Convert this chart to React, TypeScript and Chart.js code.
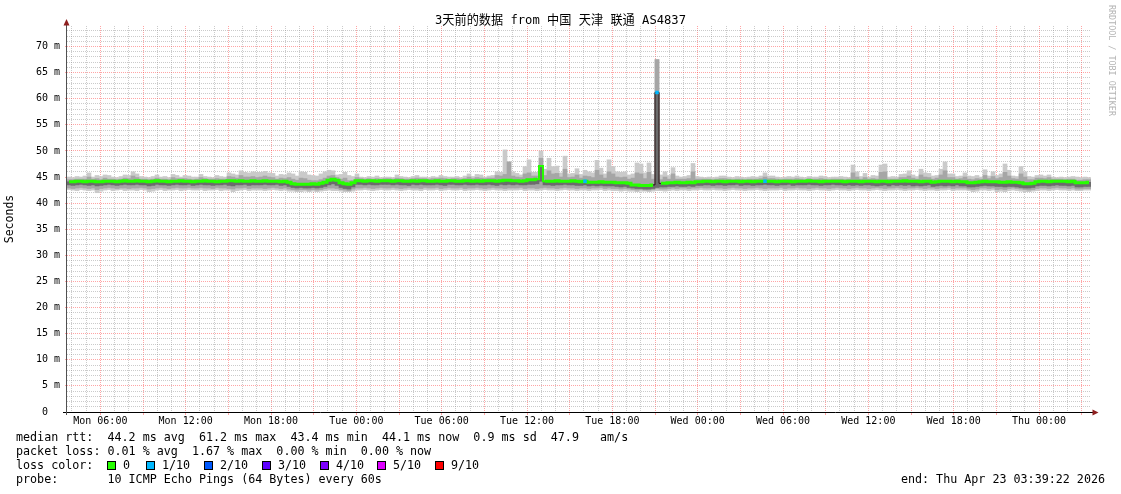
import React, { useEffect, useRef } from 'react';
import { Chart, registerables } from 'chart.js';

Chart.register(...registerables);

// ---------------- data ----------------
// time axis: hours since Monday 00:00; graph covers 72 h ending Thu 03:39:22
const startHour = 3 + 39 / 60 + 22 / 3600;
const spanHours = 72;

// median RTT (ms), one value per consolidated step
const medianRtt = [
  44.1, 44.1, 44.2, 44.2, 44.1, 44.2, 44.2, 44.1, 44.1, 44.2, 44.2, 44.2, 44.1, 44.2, 44.3, 44.2,
  44.2, 44.3, 44.2, 44.2, 44.1, 44.2, 44.3, 44.2, 44.2, 44.1, 44.2, 44.2, 44.3, 44.2, 44.2, 44.1,
  44.2, 44.2, 44.3, 44.2, 44.2, 44.1, 44.2, 44.2, 44.3, 44.3, 44.2, 44.3, 44.2, 44.2, 44.3, 44.2,
  44.2, 44.3, 44.2, 44.2, 44.2, 44.1, 44.2, 44.0, 43.7, 43.6, 43.6, 43.6, 43.6, 43.7, 43.6, 43.8,
  44.0, 44.4, 44.6, 44.4, 43.9, 43.7, 43.6, 43.9, 44.3, 44.3, 44.2, 44.3, 44.3, 44.2, 44.3, 44.3,
  44.3, 44.2, 44.3, 44.3, 44.2, 44.2, 44.3, 44.2, 44.3, 44.3, 44.2, 44.2, 44.3, 44.2, 44.2, 44.3,
  44.3, 44.2, 44.2, 44.3, 44.3, 44.2, 44.3, 44.2, 44.3, 44.3, 44.3, 44.2, 44.3, 44.4, 44.4, 44.3,
  44.3, 44.2, 44.3, 44.5, 44.5, 44.6, 47.1, 44.2, 44.2, 44.2, 44.3, 44.2, 44.2, 44.2, 44.3, 44.2,
  44.1, 44.2, 44.0, 44.0, 44.0, 44.1, 44.0, 44.0, 44.0, 43.9, 43.9, 43.9, 43.8, 43.5, 43.5, 43.4,
  43.4, 43.4, 43.5, 61.2, 43.8, 43.8, 43.9, 43.9, 44.0, 43.9, 43.9, 44.0, 43.9, 44.1, 44.1, 44.2,
  44.2, 44.1, 44.2, 44.2, 44.1, 44.2, 44.2, 44.2, 44.1, 44.2, 44.2, 44.1, 44.2, 44.2, 44.2, 44.2,
  44.2, 44.1, 44.2, 44.2, 44.2, 44.1, 44.2, 44.2, 44.2, 44.3, 44.2, 44.2, 44.1, 44.2, 44.2, 44.2,
  44.2, 44.2, 44.1, 44.2, 44.2, 44.2, 44.1, 44.2, 44.2, 44.2, 44.1, 44.2, 44.2, 44.1, 44.2, 44.2,
  44.2, 44.3, 44.2, 44.2, 44.2, 44.1, 44.2, 44.2, 44.0, 44.1, 44.2, 44.2, 44.2, 44.1, 44.2, 44.1,
  44.1, 43.9, 43.9, 44.0, 44.1, 44.2, 44.1, 44.1, 44.1, 44.0, 44.0, 44.1, 44.0, 44.0, 43.9, 43.7,
  43.7, 43.8, 44.1, 44.2, 44.2, 44.1, 44.2, 44.2, 44.2, 44.2, 44.1, 44.2, 43.9, 43.9, 43.9, 44.0,
];

// smoke: slowest ping of each step (light grey top)
const smokeMax = [
  45.0, 44.9, 45.1, 45.0, 45.2, 45.8, 45.0, 45.3, 45.1, 45.4, 45.3, 45.0, 44.9, 45.1, 45.4, 45.3,
  46.0, 45.6, 45.1, 45.0, 44.9, 45.1, 45.4, 45.0, 45.1, 44.9, 45.5, 45.3, 45.0, 45.3, 45.2, 45.0,
  45.0, 45.5, 45.1, 45.0, 44.9, 45.3, 45.1, 45.0, 45.8, 45.6, 45.4, 46.2, 45.9, 45.8, 46.0, 45.9,
  45.9, 46.1, 45.8, 45.7, 45.2, 45.5, 45.4, 45.8, 45.6, 45.2, 46.0, 45.9, 45.4, 45.3, 45.2, 45.6,
  46.0, 46.3, 46.2, 45.4, 45.5, 45.9, 45.3, 45.1, 45.6, 45.0, 44.9, 45.1, 45.0, 45.2, 44.9, 45.0,
  45.0, 44.9, 45.4, 45.1, 45.0, 44.9, 45.1, 45.3, 45.0, 45.0, 44.9, 45.1, 45.0, 45.3, 45.1, 45.0,
  45.0, 45.1, 44.9, 45.2, 45.6, 45.1, 45.5, 45.4, 45.0, 45.2, 45.3, 46.0, 45.9, 50.2, 47.9, 46.0,
  45.7, 45.4, 47.0, 48.3, 45.9, 45.9, 50.0, 46.5, 48.6, 47.0, 47.1, 45.8, 49.0, 45.6, 45.7, 46.6,
  45.5, 46.3, 46.0, 45.8, 48.2, 46.7, 45.6, 48.3, 47.0, 46.0, 45.9, 46.0, 45.4, 45.6, 47.7, 47.5,
  45.8, 47.7, 45.5, 67.5, 45.4, 46.0, 45.3, 46.8, 45.2, 45.0, 45.1, 45.3, 47.6, 45.1, 45.0, 44.9,
  45.0, 44.9, 45.0, 45.2, 45.2, 45.0, 44.9, 45.1, 45.0, 44.9, 45.0, 45.1, 45.0, 45.2, 45.8, 45.2,
  45.2, 45.0, 44.9, 45.0, 45.1, 45.0, 45.2, 45.0, 44.9, 45.1, 45.0, 45.0, 45.2, 45.1, 44.9, 45.0,
  45.0, 45.1, 45.0, 44.9, 47.3, 46.0, 45.1, 45.7, 45.0, 45.3, 45.2, 47.3, 47.5, 45.0, 45.1, 45.0,
  45.5, 45.6, 46.2, 45.4, 45.1, 46.5, 45.8, 45.7, 45.2, 45.3, 46.5, 47.9, 45.6, 45.6, 45.1, 45.2,
  45.8, 45.2, 45.1, 45.3, 45.0, 46.4, 45.2, 46.0, 45.3, 45.6, 47.5, 46.3, 45.2, 45.1, 47.0, 46.0,
  45.1, 45.0, 45.3, 45.4, 45.2, 45.4, 45.0, 44.9, 45.0, 44.9, 45.0, 45.1, 45.0, 44.9, 45.0, 44.9,
];

// smoke: fastest ping of each step (light grey bottom)
const smokeMin = [
  42.6, 42.5, 42.4, 42.6, 42.5, 42.4, 42.5, 42.0, 42.3, 42.5, 42.6, 42.4, 42.5, 42.6, 42.4, 42.5,
  42.5, 42.4, 42.6, 42.5, 42.2, 42.3, 42.5, 42.6, 42.4, 42.5, 42.5, 42.6, 42.4, 42.5, 42.6, 42.5,
  42.5, 42.6, 42.4, 42.5, 42.5, 42.6, 42.4, 42.5, 42.5, 42.2, 42.4, 42.5, 42.6, 42.4, 42.5, 42.5,
  42.5, 42.4, 42.5, 42.6, 42.5, 42.4, 42.5, 42.3, 42.3, 42.2, 42.2, 42.3, 42.2, 42.3, 42.2, 42.3,
  42.4, 42.5, 42.4, 42.4, 42.3, 42.2, 42.2, 42.3, 42.5, 42.5, 42.6, 42.5, 42.4, 42.5, 42.6, 42.5,
  42.5, 42.6, 42.5, 42.4, 42.5, 42.6, 42.5, 42.5, 42.4, 42.6, 42.5, 42.5, 42.6, 42.4, 42.5, 42.6,
  42.5, 42.5, 42.6, 42.4, 42.5, 42.5, 42.6, 42.5, 42.4, 42.5, 42.6, 42.5, 42.5, 42.4, 42.5, 42.5,
  42.5, 42.6, 42.4, 42.5, 42.5, 42.4, 42.5, 42.6, 42.5, 42.5, 42.4, 42.5, 42.6, 42.5, 42.5, 42.4,
  42.5, 42.5, 42.4, 42.5, 42.5, 42.6, 42.4, 42.5, 42.4, 42.4, 42.3, 42.4, 42.3, 42.3, 42.2, 42.3,
  42.3, 42.2, 42.3, 42.4, 42.4, 42.3, 42.4, 42.5, 42.4, 42.5, 42.5, 42.4, 42.5, 42.5, 42.6, 42.5,
  42.5, 42.6, 42.5, 42.5, 42.4, 42.5, 42.6, 42.5, 42.5, 42.4, 42.5, 42.5, 42.6, 42.5, 42.4, 42.5,
  42.5, 42.5, 42.6, 42.4, 42.5, 42.5, 42.6, 42.5, 42.5, 42.4, 42.5, 42.6, 42.5, 42.5, 42.4, 42.5,
  42.6, 42.5, 42.5, 42.4, 42.5, 42.6, 42.5, 42.5, 42.4, 42.5, 42.6, 42.5, 42.4, 42.5, 42.5, 42.6,
  42.5, 42.4, 42.5, 42.5, 42.6, 42.5, 42.4, 42.5, 42.5, 42.4, 42.5, 42.5, 42.6, 42.4, 42.5, 42.5,
  42.5, 42.4, 42.2, 42.3, 42.5, 42.5, 42.4, 42.5, 42.2, 42.3, 42.2, 42.4, 42.5, 42.4, 42.3, 42.2,
  42.2, 42.3, 42.4, 42.5, 42.5, 42.4, 42.5, 42.6, 42.5, 42.5, 42.4, 42.5, 42.4, 42.4, 42.5, 42.5,
];

// smoke: middle pings (medium grey band)
const smokeMidLow = [
  42.9, 42.8, 42.9, 43.0, 42.9, 42.8, 42.9, 42.6, 42.8, 42.9, 43.0, 42.9, 42.8, 42.9, 42.9, 42.8,
  42.9, 42.9, 43.0, 42.9, 42.7, 42.8, 42.9, 43.0, 42.9, 42.8, 42.9, 43.0, 42.9, 42.9, 43.0, 42.9,
  42.9, 43.0, 42.9, 42.9, 42.8, 43.0, 42.9, 42.9, 42.8, 42.7, 42.9, 42.9, 43.0, 42.8, 42.9, 42.9,
  42.9, 42.8, 42.9, 43.0, 42.9, 42.8, 42.9, 42.7, 42.6, 42.5, 42.6, 42.6, 42.5, 42.6, 42.5, 42.6,
  42.8, 42.9, 42.9, 42.8, 42.6, 42.5, 42.4, 42.7, 42.9, 42.9, 43.0, 42.9, 42.8, 42.9, 43.0, 42.9,
  42.9, 43.0, 42.9, 42.8, 42.9, 43.0, 42.9, 42.9, 42.8, 43.0, 42.9, 42.9, 43.0, 42.8, 42.9, 43.0,
  42.9, 42.9, 43.0, 42.8, 42.9, 42.9, 43.0, 42.9, 42.8, 42.9, 43.0, 42.9, 42.9, 42.8, 42.9, 42.9,
  42.9, 43.0, 42.8, 42.9, 42.9, 42.8, 42.9, 43.0, 42.9, 42.9, 42.8, 42.9, 43.0, 42.9, 42.9, 42.8,
  42.9, 42.9, 42.8, 42.9, 42.9, 43.0, 42.8, 42.9, 42.8, 42.8, 42.7, 42.8, 42.7, 42.6, 42.5, 42.6,
  42.5, 42.5, 42.6, 42.8, 42.7, 42.7, 42.8, 42.9, 42.8, 42.9, 42.9, 42.8, 42.9, 42.9, 43.0, 42.9,
  42.9, 43.0, 42.9, 42.9, 42.8, 42.9, 43.0, 42.9, 42.9, 42.8, 42.9, 42.9, 43.0, 42.9, 42.8, 42.9,
  42.9, 42.9, 43.0, 42.8, 42.9, 42.9, 43.0, 42.9, 42.9, 42.8, 42.9, 43.0, 42.9, 42.9, 42.8, 42.9,
  43.0, 42.9, 42.9, 42.8, 42.9, 43.0, 42.9, 42.9, 42.8, 42.9, 43.0, 42.9, 42.8, 42.9, 42.9, 43.0,
  42.9, 42.8, 42.9, 42.9, 43.0, 42.9, 42.8, 42.9, 42.9, 42.8, 42.9, 42.9, 43.0, 42.8, 42.9, 42.9,
  42.9, 42.7, 42.6, 42.7, 42.9, 42.9, 42.8, 42.9, 42.6, 42.7, 42.6, 42.8, 42.9, 42.8, 42.7, 42.6,
  42.5, 42.6, 42.8, 42.9, 42.9, 42.8, 42.9, 43.0, 42.9, 42.9, 42.8, 42.9, 42.7, 42.7, 42.8, 42.8,
];
const smokeMidHigh = [
  44.5, 44.5, 44.6, 44.6, 44.6, 45.0, 44.6, 44.7, 44.5, 44.8, 44.6, 44.6, 44.5, 44.6, 44.8, 44.7,
  45.2, 44.9, 44.6, 44.6, 44.5, 44.6, 44.8, 44.6, 44.6, 44.5, 44.9, 44.7, 44.7, 44.7, 44.6, 44.5,
  44.6, 44.9, 44.7, 44.6, 44.6, 44.7, 44.6, 44.6, 45.1, 45.0, 44.8, 45.3, 45.0, 45.0, 45.1, 44.9,
  45.0, 45.2, 45.0, 44.9, 44.6, 44.8, 44.7, 44.9, 44.6, 44.4, 44.8, 44.7, 44.4, 44.3, 44.3, 44.5,
  44.8, 45.2, 45.3, 44.9, 44.6, 44.8, 44.3, 44.4, 44.9, 44.7, 44.6, 44.7, 44.6, 44.7, 44.6, 44.7,
  44.7, 44.6, 44.8, 44.7, 44.6, 44.6, 44.7, 44.8, 44.7, 44.7, 44.6, 44.7, 44.7, 44.8, 44.7, 44.6,
  44.7, 44.7, 44.6, 44.7, 45.0, 44.7, 44.9, 44.8, 44.7, 44.8, 44.8, 45.3, 45.2, 45.5, 47.9, 45.2,
  45.0, 44.9, 45.6, 45.8, 45.2, 45.2, 48.6, 45.3, 46.2, 45.6, 45.7, 45.0, 46.5, 44.9, 45.0, 45.4,
  44.8, 45.2, 45.1, 44.9, 46.3, 45.4, 44.8, 46.0, 45.6, 45.0, 44.9, 45.0, 44.6, 44.8, 45.8, 45.6,
  44.7, 45.9, 44.6, 67.5, 44.5, 45.0, 44.6, 45.6, 44.6, 44.6, 44.6, 44.7, 46.0, 44.6, 44.6, 44.6,
  44.6, 44.5, 44.6, 44.7, 44.7, 44.6, 44.5, 44.6, 44.6, 44.5, 44.6, 44.6, 44.6, 44.7, 45.0, 44.7,
  44.7, 44.6, 44.5, 44.6, 44.6, 44.6, 44.7, 44.6, 44.5, 44.7, 44.6, 44.6, 44.7, 44.6, 44.5, 44.6,
  44.6, 44.6, 44.5, 44.6, 45.8, 45.0, 44.6, 44.9, 44.6, 44.7, 44.6, 45.9, 46.0, 44.6, 44.6, 44.6,
  44.9, 44.9, 45.2, 44.8, 44.6, 45.4, 45.0, 44.9, 44.6, 44.8, 45.4, 46.2, 44.9, 44.9, 44.6, 44.7,
  45.0, 44.6, 44.5, 44.7, 44.6, 45.3, 44.7, 45.1, 44.7, 44.9, 45.9, 45.2, 44.7, 44.6, 45.6, 45.0,
  44.5, 44.5, 44.8, 44.8, 44.7, 44.9, 44.6, 44.6, 44.6, 44.5, 44.6, 44.6, 44.4, 44.4, 44.5, 44.5,
];

// smoke: pings closest below the median (dark grey core)
const smokeCoreLow = [
  43.5, 43.4, 43.5, 43.6, 43.5, 43.4, 43.5, 43.3, 43.4, 43.5, 43.6, 43.5, 43.4, 43.5, 43.6, 43.5,
  43.5, 43.6, 43.5, 43.5, 43.3, 43.4, 43.6, 43.5, 43.5, 43.4, 43.5, 43.6, 43.5, 43.5, 43.6, 43.4,
  43.5, 43.6, 43.5, 43.5, 43.4, 43.5, 43.5, 43.6, 43.4, 43.3, 43.5, 43.5, 43.6, 43.4, 43.5, 43.5,
  43.5, 43.6, 43.5, 43.5, 43.6, 43.4, 43.5, 43.2, 43.0, 42.9, 43.0, 42.9, 42.9, 43.0, 42.9, 43.0,
  43.2, 43.5, 43.7, 43.4, 43.0, 42.8, 42.7, 43.1, 43.6, 43.6, 43.5, 43.6, 43.5, 43.5, 43.6, 43.6,
  43.6, 43.5, 43.6, 43.5, 43.5, 43.4, 43.6, 43.5, 43.6, 43.5, 43.5, 43.5, 43.6, 43.5, 43.4, 43.6,
  43.6, 43.5, 43.5, 43.6, 43.5, 43.5, 43.6, 43.5, 43.5, 43.6, 43.5, 43.4, 43.6, 43.5, 43.6, 43.5,
  43.6, 43.5, 43.5, 43.6, 43.6, 43.7, 44.2, 43.5, 43.5, 43.4, 43.5, 43.5, 43.6, 43.5, 43.5, 43.4,
  43.4, 43.5, 43.3, 43.4, 43.3, 43.4, 43.3, 43.3, 43.3, 43.2, 43.1, 43.2, 43.0, 42.9, 42.8, 42.8,
  42.7, 42.7, 42.8, 43.0, 43.1, 43.1, 43.2, 43.2, 43.3, 43.2, 43.2, 43.3, 43.2, 43.4, 43.4, 43.5,
  43.5, 43.4, 43.5, 43.5, 43.4, 43.5, 43.5, 43.6, 43.4, 43.5, 43.5, 43.4, 43.5, 43.5, 43.6, 43.5,
  43.5, 43.4, 43.5, 43.5, 43.6, 43.4, 43.5, 43.5, 43.5, 43.6, 43.5, 43.5, 43.4, 43.5, 43.5, 43.6,
  43.5, 43.5, 43.4, 43.5, 43.4, 43.5, 43.4, 43.5, 43.5, 43.4, 43.3, 43.4, 43.5, 43.3, 43.5, 43.4,
  43.5, 43.4, 43.5, 43.3, 43.4, 43.3, 43.4, 43.5, 43.2, 43.3, 43.4, 43.3, 43.4, 43.3, 43.5, 43.3,
  43.3, 43.1, 43.1, 43.2, 43.3, 43.4, 43.3, 43.3, 43.2, 43.2, 43.1, 43.2, 43.2, 43.1, 43.0, 42.9,
  42.9, 43.0, 43.3, 43.4, 43.4, 43.3, 43.4, 43.5, 43.4, 43.4, 43.3, 43.4, 43.1, 43.1, 43.2, 43.2,
];

// steps where 1 of 10 pings was lost
const lossOneTenthSteps = [129, 147, 174];

const xTickHours = [6, 12, 18, 24, 30, 36, 42, 48, 54, 60, 66, 72];
const xTickLabels = [
  'Mon 06:00', 'Mon 12:00', 'Mon 18:00', 'Tue 00:00', 'Tue 06:00', 'Tue 12:00',
  'Tue 18:00', 'Wed 00:00', 'Wed 06:00', 'Wed 12:00', 'Wed 18:00', 'Thu 00:00',
];
const yLabelValues = [0, 5, 10, 15, 20, 25, 30, 35, 40, 45, 50, 55, 60, 65, 70];
const yMax = 73.93;

const lossLabels = ['0', '1/10', '2/10', '3/10', '4/10', '5/10', '9/10'];
const lossColors = ['#26ff00', '#00b8ff', '#0059ff', '#5e00ff', '#7e00ff', '#dd00ff', '#ff0000'];

const titleText = '3天前的数据 from 中国 天津 联通 AS4837';
const statLines = [
  'median rtt:  44.2 ms avg  61.2 ms max  43.4 ms min  44.1 ms now  0.9 ms sd  47.9   am/s',
  'packet loss: 0.01 % avg  1.67 % max  0.00 % min  0.00 % now',
];
const probeLine = 'probe:       10 ICMP Echo Pings (64 Bytes) every 60s';
const endLine = 'end: Thu Apr 23 03:39:22 2026';

// ---------------- styling ----------------
const MONO = '"DejaVu Sans Mono", "Noto Sans CJK SC", monospace';
const RED_GRID = 'rgba(255, 40, 40, 0.42)';
const GRAY_GRID = 'rgba(140, 140, 140, 0.45)';
const LIGHT_SMOKE = '#cacaca';
const MID_SMOKE = '#a6a6a6';
const DARK_SMOKE = '#6c6c6c';

const N = medianRtt.length;
const xAt = (i: number) => startHour + ((i + 0.5) * spanHours) / N;
const band = (low: number[], high: number[]) =>
  low.map((v, i) => ({ x: xAt(i), y: [v, high[i]] }));

const gridHours: number[] = [];
for (let h = Math.ceil(startHour); h <= startHour + spanHours; h++) gridHours.push(h);
const gridMs: number[] = [];
for (let v = 0; v <= yMax; v++) gridMs.push(v);

const overlayPlugin = {
  id: 'smokepingOverlay',
  afterDraw(chart: any) {
    const ctx: CanvasRenderingContext2D = chart.ctx;
    const { left, right, top, bottom } = chart.chartArea;
    ctx.save();

    // axes
    ctx.lineWidth = 1;
    ctx.strokeStyle = '#000';
    ctx.beginPath();
    ctx.moveTo(left - 4, bottom + 0.5);
    ctx.lineTo(right + 2, bottom + 0.5);
    ctx.stroke();
    ctx.strokeStyle = '#505050';
    ctx.beginPath();
    ctx.moveTo(left - 0.5, bottom + 3);
    ctx.lineTo(left - 0.5, top - 1);
    ctx.stroke();
    // arrows
    ctx.fillStyle = '#8e1f1f';
    ctx.beginPath();
    ctx.moveTo(left - 0.5, top - 7);
    ctx.lineTo(left - 3.5, top - 0.5);
    ctx.lineTo(left + 2.5, top - 0.5);
    ctx.closePath();
    ctx.fill();
    ctx.beginPath();
    ctx.moveTo(right + 7.5, bottom + 0.5);
    ctx.lineTo(right + 1.5, bottom - 2.5);
    ctx.lineTo(right + 1.5, bottom + 3.5);
    ctx.closePath();
    ctx.fill();

    // title
    ctx.fillStyle = '#000';
    ctx.textBaseline = 'middle';
    ctx.textAlign = 'center';
    ctx.font = `13px ${MONO}`;
    ctx.fillText(titleText, 560.5, 21, 251);

    // vertical axis title
    ctx.save();
    ctx.translate(10.5, 219);
    ctx.rotate(-Math.PI / 2);
    ctx.font = `11.5px ${MONO}`;
    ctx.fillText('Seconds', 0, 0);
    ctx.restore();

    // watermark
    ctx.save();
    ctx.translate(1111.5, 5);
    ctx.rotate(Math.PI / 2);
    ctx.textAlign = 'left';
    ctx.fillStyle = '#b4b4b4';
    ctx.font = `8.4px ${MONO}`;
    ctx.fillText('RRDTOOL / TOBI OETIKER', 0, 0);
    ctx.restore();

    // legend block
    ctx.textAlign = 'left';
    ctx.fillStyle = '#000';
    ctx.font = `11.7px ${MONO}`;
    ctx.fillText(statLines[0], 16, 438);
    ctx.fillText(statLines[1], 16, 452);
    ctx.fillText('loss color:', 16, 466);
    const boxX = [107, 146, 204, 262, 320, 377, 435];
    lossLabels.forEach((lab, k) => {
      const bx = boxX[k];
      ctx.fillStyle = lossColors[k];
      ctx.fillRect(bx, 462, 8, 8);
      ctx.strokeStyle = '#000';
      ctx.strokeRect(bx + 0.5, 461.5, 8, 8);
      ctx.fillStyle = '#000';
      ctx.fillText(lab, bx + 16, 466);
    });
    ctx.fillText(probeLine, 16, 480);
    ctx.textAlign = 'right';
    ctx.fillText(endLine, 1105, 480);

    ctx.restore();
  },
};

export default function App() {
  const ref = useRef<HTMLCanvasElement | null>(null);

  useEffect(() => {
    document.body.style.margin = '0';
    const canvas = ref.current;
    if (!canvas) return;

    const barCommon = {
      type: 'bar' as const,
      grouped: false,
      barPercentage: 1,
      categoryPercentage: 1,
      borderWidth: 0,
    };

    const jump = (c: any) => Math.abs(c.p1.parsed.y - c.p0.parsed.y);

    const chart = new Chart(canvas, {
      type: 'bar',
      data: {
        datasets: [
          {
            type: 'line',
            label: 'loss 1/10',
            data: lossOneTenthSteps.map((i) => ({ x: xAt(i), y: medianRtt[i] })),
            showLine: false,
            pointStyle: 'rect',
            pointRadius: 2.5,
            pointBorderWidth: 0,
            pointBackgroundColor: lossColors[1],
            order: 0,
          },
          {
            type: 'line',
            label: 'median rtt',
            data: medianRtt.map((v, i) => ({ x: xAt(i), y: v })),
            borderColor: lossColors[0],
            borderWidth: 3,
            stepped: 'middle',
            pointRadius: 0,
            borderCapStyle: 'butt',
            borderJoinStyle: 'miter',
            order: 1,
            segment: {
              borderColor: (c: any) => (jump(c) > 5 ? '#2a1414' : undefined),
              borderWidth: (c: any) => (jump(c) > 5 ? 1 : jump(c) > 2 ? 2 : undefined),
            },
          },
          { ...barCommon, label: 'core', data: band(smokeCoreLow, medianRtt), backgroundColor: DARK_SMOKE, order: 2 },
          { ...barCommon, label: 'mid', data: band(smokeMidLow, smokeMidHigh), backgroundColor: MID_SMOKE, order: 3 },
          { ...barCommon, label: 'range', data: band(smokeMin, smokeMax), backgroundColor: LIGHT_SMOKE, order: 4 },
        ] as any,
      },
      options: {
        responsive: false,
        animation: false,
        devicePixelRatio: 1,
        events: [],
        layout: { padding: { left: 0, right: 30, top: 26, bottom: 0 } },
        plugins: {
          legend: { display: false },
          tooltip: { enabled: false },
          title: { display: false },
        },
        scales: {
          x: {
            type: 'linear',
            min: startHour,
            max: startHour + spanHours,
            bounds: 'data',
            offset: false,
            z: 1,
            afterBuildTicks: (s: any) => {
              s.ticks = gridHours.map((v) => ({ value: v }));
            },
            afterFit: (s: any) => {
              s.height = 82;
            },
            grid: {
              offset: false,
              lineWidth: 1,
              color: (c: any) =>
                c.tick ? (c.tick.value % 3 === 0 ? RED_GRID : GRAY_GRID) : 'rgba(0,0,0,0)',
              drawTicks: true,
              tickLength: 3,
              tickColor: (c: any) =>
                c.tick && c.tick.value % 3 === 0 ? RED_GRID : 'rgba(0,0,0,0)',
            },
            border: { display: false, dash: [1, 1] },
            ticks: {
              autoSkip: false,
              maxRotation: 0,
              minRotation: 0,
              padding: 0,
              color: '#000',
              font: { family: MONO, size: 10, lineHeight: 1.2 },
              callback: (v: any) => {
                const k = xTickHours.indexOf(Number(v));
                return k >= 0 ? xTickLabels[k] : '';
              },
            },
          },
          y: {
            type: 'linear',
            min: 0,
            max: yMax,
            bounds: 'data',
            z: 1,
            afterBuildTicks: (s: any) => {
              s.ticks = gridMs.map((v) => ({ value: v }));
            },
            afterFit: (s: any) => {
              s.width = 67;
            },
            grid: {
              lineWidth: 1,
              color: (c: any) =>
                !c.tick || c.tick.value === 0
                  ? 'rgba(0,0,0,0)'
                  : c.tick.value % 5 === 0
                  ? RED_GRID
                  : GRAY_GRID,
              drawTicks: true,
              tickLength: 2,
              tickColor: (c: any) =>
                c.tick && c.tick.value % 5 === 0 && c.tick.value !== 0 ? RED_GRID : 'rgba(0,0,0,0)',
            },
            border: { display: false, dash: [1, 1] },
            ticks: {
              autoSkip: false,
              padding: 5,
              color: '#000',
              font: { family: MONO, size: 10, lineHeight: 1.2 },
              callback: (v: any) => {
                const n = Number(v);
                if (yLabelValues.indexOf(n) < 0) return '';
                return n === 0 ? '0  ' : `${n} m`;
              },
            },
          },
        },
      } as any,
      plugins: [overlayPlugin],
    });

    return () => chart.destroy();
  }, []);

  return (
    <div style={{ position: 'absolute', left: 0, top: 0, width: 1121, height: 494, background: '#fff' }}>
      <canvas ref={ref} width={1121} height={494} style={{ display: 'block', width: 1121, height: 494 }} />
    </div>
  );
}
